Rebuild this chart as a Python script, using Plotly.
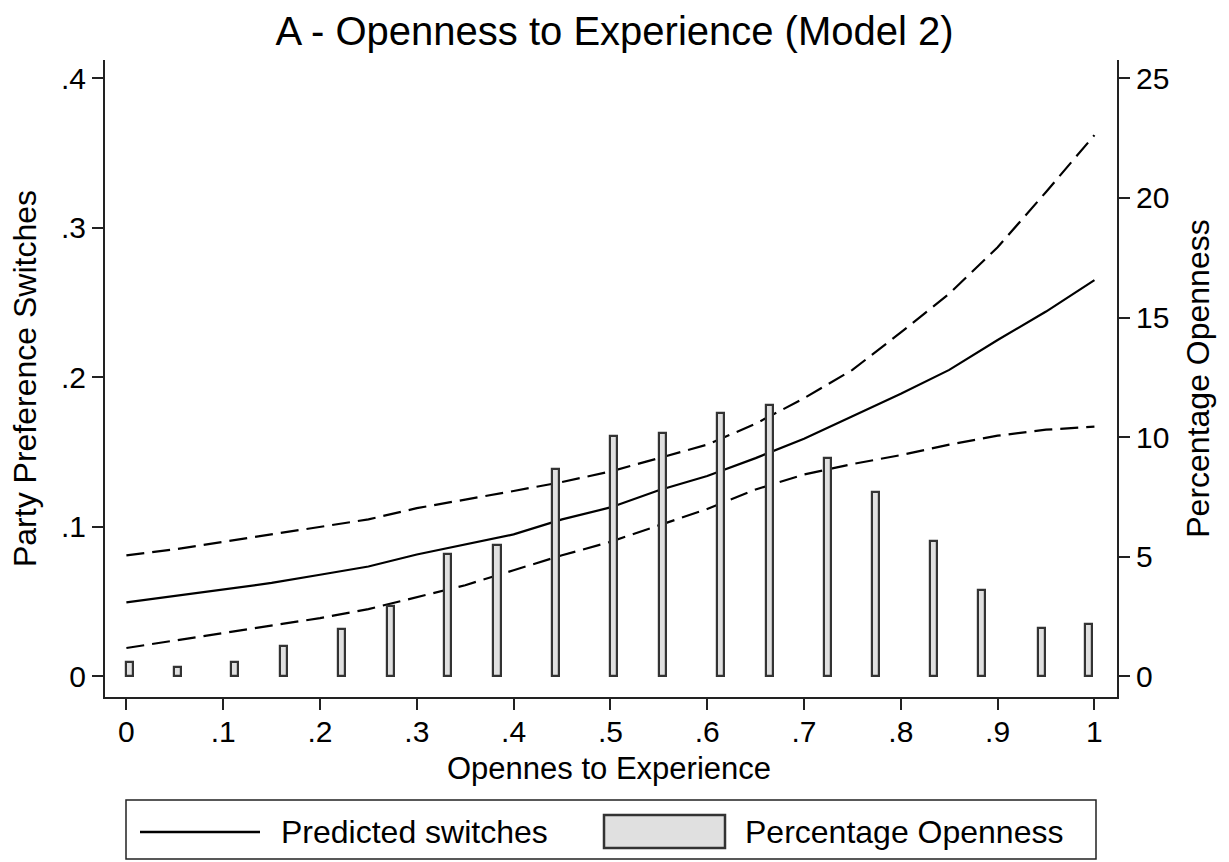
import plotly.graph_objects as go

# ---------------- data ----------------
x_grid = [0.00, 0.05, 0.10, 0.15, 0.20, 0.25, 0.30, 0.35, 0.40, 0.45, 0.50,
          0.55, 0.60, 0.65, 0.70, 0.75, 0.80, 0.85, 0.90, 0.95, 1.00]
predicted = [0.0495, 0.054, 0.058, 0.0625, 0.068, 0.0735, 0.0815, 0.088, 0.095, 0.105, 0.113,
             0.1245, 0.134, 0.146, 0.159, 0.174, 0.189, 0.205, 0.225, 0.244, 0.265]
upper_ci = [0.081, 0.085, 0.090, 0.095, 0.0995, 0.105, 0.1125, 0.118, 0.124, 0.130, 0.137,
            0.146, 0.155, 0.169, 0.186, 0.205, 0.230, 0.256, 0.287, 0.324, 0.362]
lower_ci = [0.019, 0.024, 0.029, 0.034, 0.039, 0.045, 0.053, 0.061, 0.071, 0.081, 0.090,
            0.101, 0.112, 0.125, 0.135, 0.142, 0.148, 0.155, 0.161, 0.165, 0.167]

bar_x = [0.003, 0.053, 0.112, 0.162, 0.222, 0.273, 0.332, 0.383, 0.443, 0.503,
         0.554, 0.614, 0.664, 0.724, 0.774, 0.834, 0.883, 0.945, 0.994]
bar_pct = [0.62, 0.41, 0.62, 1.27, 1.98, 2.95, 5.10, 5.50, 8.66, 10.03,
           10.17, 11.00, 11.34, 9.11, 7.69, 5.68, 3.60, 2.04, 2.18]

x_tickvals = [0, 0.1, 0.2, 0.3, 0.4, 0.5, 0.6, 0.7, 0.8, 0.9, 1.0]
x_ticktext = ["0", ".1", ".2", ".3", ".4", ".5", ".6", ".7", ".8", ".9", "1"]
y_tickvals = [0, 0.1, 0.2, 0.3, 0.4]
y_ticktext = ["0", ".1", ".2", ".3", ".4"]
y2_tickvals = [0, 5, 10, 15, 20, 25]

title_text = "A - Openness to Experience (Model 2)"
x_title = "Opennes to Experience"
y_title = "Party Preference Switches"
y2_title = "Percentage Openness"
legend_labels = ["Predicted switches", "Percentage Openness"]

# ---------------- styling ----------------
FONT = "Liberation Sans, Arial, sans-serif"
AX = "#222222"
BAR_FILL = "#e0e0e0"
BAR_LINE = "#333333"

fig = go.Figure()

fig.add_trace(go.Scatter(x=x_grid, y=upper_ci, mode="lines", yaxis="y",
                         line=dict(color="black", width=2.2, dash="18px,8px"),
                         showlegend=False, hoverinfo="skip"))
fig.add_trace(go.Scatter(x=x_grid, y=lower_ci, mode="lines", yaxis="y",
                         line=dict(color="black", width=2.2, dash="18px,8px"),
                         showlegend=False, hoverinfo="skip"))
fig.add_trace(go.Scatter(x=x_grid, y=predicted, mode="lines", yaxis="y",
                         name=legend_labels[0],
                         line=dict(color="black", width=2.2),
                         showlegend=False))
fig.add_trace(go.Bar(x=bar_x, y=bar_pct, yaxis="y2", width=0.0076,
                     name=legend_labels[1],
                     marker=dict(color=BAR_FILL, line=dict(color=BAR_LINE, width=2.2)),
                     showlegend=False))

W, H = 1229, 862
L, R, T, B = 105, 112, 60, 165
pw = W - L - R
ph = H - T - B


def px_x(px):
    return (px - L) / pw


def px_y(py):
    return (H - B - py) / ph


# manual Stata-style legend box
shapes = [
    dict(type="rect", xref="paper", yref="paper",
         x0=px_x(126), x1=px_x(1096), y0=px_y(859), y1=px_y(800),
         line=dict(color=AX, width=1.5), fillcolor="white"),
    dict(type="line", xref="paper", yref="paper",
         x0=px_x(140), x1=px_x(260), y0=px_y(832), y1=px_y(832),
         line=dict(color="black", width=2.5)),
    dict(type="rect", xref="paper", yref="paper",
         x0=px_x(604), x1=px_x(725), y0=px_y(848), y1=px_y(815),
         line=dict(color=BAR_LINE, width=2.5), fillcolor=BAR_FILL),
]
annotations = [
    dict(text=legend_labels[0], xref="paper", yref="paper",
         x=px_x(279), y=px_y(832), xanchor="left", yanchor="middle",
         showarrow=False, font=dict(family=FONT, size=32, color="black")),
    dict(text=legend_labels[1], xref="paper", yref="paper",
         x=px_x(743), y=px_y(832), xanchor="left", yanchor="middle",
         showarrow=False, font=dict(family=FONT, size=32, color="black")),
    dict(text=x_title, xref="paper", yref="paper",
         x=px_x(609), y=px_y(768), xanchor="center", yanchor="middle",
         showarrow=False, font=dict(family=FONT, size=31, color="black")),
]

axis_common = dict(showgrid=False, zeroline=False, showline=True, linecolor=AX,
                   linewidth=2, ticks="outside", ticklen=11, tickwidth=2,
                   tickcolor=AX, tickfont=dict(family=FONT, size=30, color="black"))

fig.update_layout(
    width=W, height=H,
    margin=dict(l=L, r=R, t=T, b=B, autoexpand=False),
    paper_bgcolor="white", plot_bgcolor="white",
    font=dict(family=FONT, color="black"),
    title=dict(text=title_text, x=0.5, xref="container", xanchor="center",
               y=1 - 31 / H, yref="container", yanchor="middle",
               font=dict(family=FONT, size=40, color="black")),
    xaxis=dict(range=[-0.0221, 1.0233], tickvals=x_tickvals, ticktext=x_ticktext,
               ticklabelstandoff=-4, mirror=False, **axis_common),
    yaxis=dict(range=[-0.01377, 0.41223], tickvals=y_tickvals, ticktext=y_ticktext,
               title=dict(text=y_title, font=dict(family=FONT, size=32, color="black"),
                          standoff=15),
               side="left", **axis_common),
    yaxis2=dict(range=[-0.861, 25.764], tickvals=y2_tickvals,
                title=dict(text=y2_title, font=dict(family=FONT, size=32, color="black"),
                           standoff=18),
                ticklabelstandoff=0, side="right", overlaying="y", **axis_common),
    bargap=0,
    shapes=shapes,
    annotations=annotations,
)

fig.write_html("out.html", config={"displayModeBar": False},
               post_script="document.body.style.margin='0px';document.body.style.overflow='hidden';")
